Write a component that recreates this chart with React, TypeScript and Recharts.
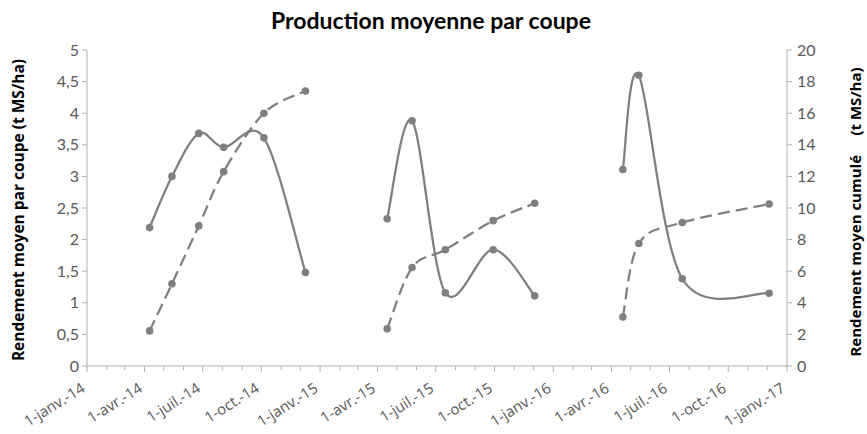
import { LineChart, Line, XAxis, YAxis } from 'recharts';

// dates des coupes et rendements
const dates2014 = ['2014-04-09', '2014-05-14', '2014-06-25', '2014-08-03', '2014-10-05', '2014-12-09'];
const parCoupe2014 = [2.19, 3.0, 3.68, 3.46, 3.61, 1.48];
const cumul2014 = [2.22, 5.2, 8.87, 12.3, 16.0, 17.4];

const dates2015 = ['2015-04-16', '2015-05-25', '2015-07-16', '2015-09-29', '2015-12-03'];
const parCoupe2015 = [2.33, 3.88, 1.16, 1.84, 1.11];
const cumul2015 = [2.35, 6.23, 7.36, 9.2, 10.3];

const dates2016 = ['2016-04-19', '2016-05-14', '2016-07-21', '2016-12-04'];
const parCoupe2016 = [3.11, 4.6, 1.38, 1.15];
const cumul2016 = [3.1, 7.75, 9.08, 10.25];

const quarterLabels = [
    '1-janv.-14', '1-avr.-14', '1-juil.-14', '1-oct.-14',
    '1-janv.-15', '1-avr.-15', '1-juil.-15', '1-oct.-15',
    '1-janv.-16', '1-avr.-16', '1-juil.-16', '1-oct.-16',
    '1-janv.-17',
];
const leftTicks = [0, 0.5, 1, 1.5, 2, 2.5, 3, 3.5, 4, 4.5, 5];
const rightTicks = [0, 2, 4, 6, 8, 10, 12, 14, 16, 18, 20];

const GREY = '#7f7f7f';
const AXIS = '#b0b0b0';
const TEXT = '#595959';
const FONT = 'Lato, "Open Sans", sans-serif';
const WIDE = '"Open Sans", Lato, sans-serif';

const DAY = 86400000;
const ORIGIN = Date.UTC(2014, 0, 1);
const toDays = (iso: string) => Math.round((Date.parse(iso) - ORIGIN) / DAY);

// ticks mensuels, libellés tous les trimestres
const monthTicks: number[] = [];
const tickLabel: Record<number, string> = {};
for (let i = 0; i <= 36; i++) {
    const d = (Date.UTC(2014 + Math.floor(i / 12), i % 12, 1) - ORIGIN) / DAY;
    monthTicks.push(d);
    if (i % 3 === 0) tickLabel[d] = quarterLabels[i / 3];
}

type Row = { t: number; coupe: number | null; cumul: number | null };
const rows: Row[] = [];
const addCampaign = (dates: string[], coupe: number[], cumul: number[]) => {
    dates.forEach((d, i) => rows.push({ t: toDays(d), coupe: coupe[i], cumul: cumul[i] }));
    rows.push({ t: toDays(dates[dates.length - 1]) + 1, coupe: null, cumul: null });
};
addCampaign(dates2014, parCoupe2014, cumul2014);
addCampaign(dates2015, parCoupe2015, cumul2015);
addCampaign(dates2016, parCoupe2016, cumul2016);

// lissage façon Excel (Catmull-Rom)
const excelSmooth = (context: any) => {
    let pts: [number, number][] = [];
    return {
        areaStart() {},
        areaEnd() {},
        lineStart() {
            pts = [];
        },
        point(x: number, y: number) {
            pts.push([+x, +y]);
        },
        lineEnd() {
            if (!pts.length) return;
            context.moveTo(pts[0][0], pts[0][1]);
            for (let i = 0; i < pts.length - 1; i++) {
                const p0 = pts[i - 1] || pts[i];
                const p1 = pts[i];
                const p2 = pts[i + 1];
                const p3 = pts[i + 2] || pts[i + 1];
                context.bezierCurveTo(
                    p1[0] + (p2[0] - p0[0]) / 6, p1[1] + (p2[1] - p0[1]) / 6,
                    p2[0] - (p3[0] - p1[0]) / 6, p2[1] - (p3[1] - p1[1]) / 6,
                    p2[0], p2[1],
                );
            }
        },
    };
};

const fmt = (v: number) => String(v).replace('.', ',');

const DateTick = (props: any) => {
    const { x, y, payload } = props;
    const label = tickLabel[payload.value];
    const ax = x - 1;
    const ay = y + 25;
    return (
        <g>
            <line x1={x} y1={y} x2={x} y2={y + (label ? 6 : 4)} stroke={AXIS} />
            {label && (
                <text
                    x={ax}
                    y={ay}
                    transform={`rotate(-32, ${ax}, ${ay})`}
                    textAnchor="end"
                    fill={TEXT}
                    fontSize={15}
                    fontFamily={WIDE}
                >
                    {label}
                </text>
            )}
        </g>
    );
};

export default function App() {
    return (
        <div style={{ position: 'absolute', left: 0, top: 0, width: 867, height: 434, background: '#fff', fontFamily: FONT }}>
            <div style={{ position: 'absolute', left: 0, width: 862, top: 6, textAlign: 'center', fontWeight: 700, fontSize: 23, color: '#000' }}>
                Production moyenne par coupe
            </div>
            <div
                style={{
                    position: 'absolute', left: 18, top: 210, transform: 'translate(-50%, -50%) rotate(-90deg)',
                    whiteSpace: 'nowrap', fontWeight: 700, fontSize: 15.5, color: '#000', fontFamily: WIDE,
                }}
            >
                Rendement moyen par coupe (t MS/ha)
            </div>
            <div
                style={{
                    position: 'absolute', left: 855, top: 212, transform: 'translate(-50%, -50%) rotate(-90deg)',
                    whiteSpace: 'pre', fontWeight: 700, fontSize: 15, color: '#000', fontFamily: WIDE,
                }}
            >
                {'Rendement moyen cumulé     (t MS/ha)'}
            </div>
            <LineChart width={867} height={434} data={rows} margin={{ top: 50, right: 0, bottom: 0, left: 0 }}>
                <XAxis
                    dataKey="t"
                    type="number"
                    domain={[0, monthTicks[monthTicks.length - 1]]}
                    ticks={monthTicks}
                    interval={0}
                    tick={<DateTick />}
                    tickLine={false}
                    tickSize={0}
                    tickMargin={0}
                    height={68}
                    stroke={AXIS}
                />
                <YAxis
                    yAxisId="left"
                    domain={[0, 5]}
                    ticks={leftTicks}
                    interval={0}
                    width={87}
                    stroke={AXIS}
                    tickSize={5}
                    tickMargin={3}
                    tickFormatter={fmt}
                    tick={{ fill: TEXT, fontSize: 16, fontFamily: FONT }}
                />
                <YAxis
                    yAxisId="right"
                    orientation="right"
                    domain={[0, 20]}
                    ticks={rightTicks}
                    interval={0}
                    width={80}
                    stroke={AXIS}
                    tickSize={5}
                    tickMargin={5}
                    tick={{ fill: TEXT, fontSize: 16, fontFamily: FONT }}
                />
                <Line
                    yAxisId="left"
                    dataKey="coupe"
                    type={excelSmooth as any}
                    stroke={GREY}
                    strokeWidth={2.25}
                    dot={{ r: 3.8, fill: GREY, stroke: 'none' }}
                    activeDot={false}
                    isAnimationActive={false}
                />
                <Line
                    yAxisId="right"
                    dataKey="cumul"
                    type={excelSmooth as any}
                    stroke={GREY}
                    strokeWidth={2.25}
                    strokeDasharray="12 6"
                    dot={{ r: 3.8, fill: GREY, stroke: 'none', strokeDasharray: 'none' }}
                    activeDot={false}
                    isAnimationActive={false}
                />
            </LineChart>
        </div>
    );
}
